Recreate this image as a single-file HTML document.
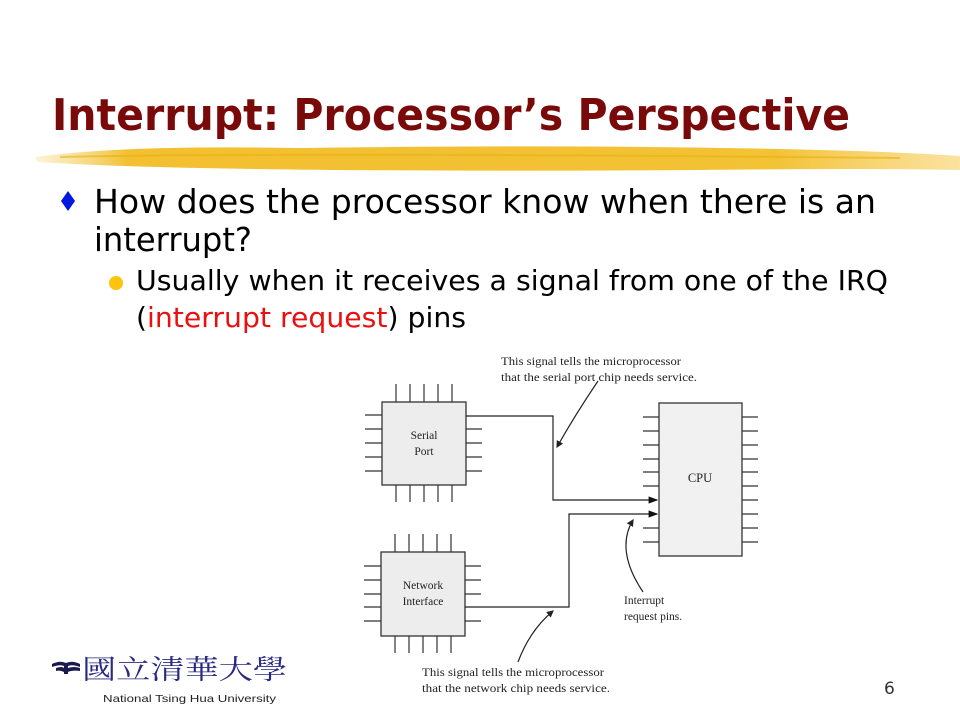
<!DOCTYPE html>
<html><head><meta charset="utf-8"><style>
html,body{margin:0;padding:0;background:#fff;}
svg{display:block}
</style></head><body>
<svg width="960" height="720" viewBox="0 0 960 720" xmlns="http://www.w3.org/2000/svg">
<defs>
<linearGradient id="br" x1="0" x2="1" y1="0" y2="0">
<stop offset="0" stop-color="#f6d77a" stop-opacity="0.3"/>
<stop offset="0.1" stop-color="#f2c030"/>
<stop offset="0.8" stop-color="#f3c235"/>
<stop offset="1" stop-color="#f7d060" stop-opacity="0.6"/>
</linearGradient>
<marker id="ah" markerWidth="8" markerHeight="6" refX="7" refY="3" orient="auto"><path d="M0,0 L8,3 L0,6 z" fill="#111"/></marker>
<marker id="ah2" markerWidth="6" markerHeight="6" refX="5" refY="3" orient="auto"><path d="M0,0 L6,3 L0,6 z" fill="#222"/></marker>
</defs>
<!-- title -->
<text x="52" y="130" font-family="'DejaVu Sans','Liberation Sans',sans-serif" font-weight="bold" font-size="44" fill="#7a0a0a" textLength="798" lengthAdjust="spacingAndGlyphs">Interrupt: Processor’s Perspective</text>
<!-- brush -->
<path d="M35,157 Q120,145 300,148 Q600,144 820,150 Q900,152 960,156 L960,170 Q880,168 700,170 Q400,172 200,168 Q100,166 38,162 z" fill="url(#br)"/>
<path d="M60,157 Q300,152 900,158" stroke="#e8b010" stroke-width="2" fill="none" opacity="0.6"/>
<!-- bullets -->
<path d="M68,191 L75,201 L68,211 L61,201 z" fill="#0018e0"/>
<text x="94" y="213" font-family="'DejaVu Sans','Liberation Sans',sans-serif" font-size="33" fill="#000" textLength="782" lengthAdjust="spacingAndGlyphs">How does the processor know when there is an</text>
<text x="94" y="251" font-family="'DejaVu Sans','Liberation Sans',sans-serif" font-size="33" fill="#000" textLength="158" lengthAdjust="spacingAndGlyphs">interrupt?</text>
<circle cx="116" cy="283" r="7" fill="#fcc40c"/>
<text x="136" y="290" font-family="'DejaVu Sans','Liberation Sans',sans-serif" font-size="28" fill="#000" textLength="752" lengthAdjust="spacingAndGlyphs">Usually when it receives a signal from one of the IRQ</text>
<text x="136" y="327" font-family="'DejaVu Sans','Liberation Sans',sans-serif" font-size="28" fill="#000" textLength="330" lengthAdjust="spacingAndGlyphs">(<tspan fill="#e81010">interrupt request</tspan>) pins</text>
<!-- diagram -->
<g stroke="#333" stroke-width="1.2" fill="none">
<path d="M396,384V402M410,384V402M424,384V402M438,384V402M452,384V402 M396,485V502M410,485V502M424,485V502M438,485V502M452,485V502 M365,415H382M365,429H382M365,443H382M365,457H382M365,471H382 M466,429H482M466,443H482M466,457H482M466,471H482"/>
<path d="M395,534V552M409,534V552M423,534V552M437,534V552M451,534V552 M395,636V653M409,636V653M423,636V653M437,636V653M451,636V653 M364,566H381M364,580H381M364,594H381M364,607H381M364,621H381 M465,566H481M465,580H481M465,594H481M465,621H481"/>
<path d="M643,417H659M643,431H659M643,445H659M643,459H659M643,472H659M643,486H659M643,528H659M643,542H659 M742,417H758M742,431H758M742,445H758M742,459H758M742,472H758M742,486H758M742,500H758M742,514H758M742,528H758M742,542H758"/>
</g>
<rect x="382" y="402" width="84" height="83" fill="#ededed" stroke="#333" stroke-width="1.3"/>
<rect x="381" y="552" width="84" height="84" fill="#ededed" stroke="#333" stroke-width="1.3"/>
<rect x="659" y="403" width="83" height="153" fill="#f1f1f1" stroke="#333" stroke-width="1.3"/>
<g fill="none" stroke="#222" stroke-width="1.2">
<path d="M466,416H553V500H657" marker-end="url(#ah)"/>
<path d="M465,607H569V514H657" marker-end="url(#ah)"/>
<path d="M598,381 Q575,415 557,447" marker-end="url(#ah2)"/>
<path d="M518,662 Q530,630 553,611" marker-end="url(#ah2)"/>
<path d="M643,592 Q615,550 633,520" marker-end="url(#ah2)"/>
</g>
<g font-family="'Liberation Serif',serif" font-size="11.5" fill="#222">
<text x="424" y="439" text-anchor="middle">Serial</text>
<text x="424" y="455" text-anchor="middle">Port</text>
<text x="423" y="589" text-anchor="middle">Network</text>
<text x="423" y="605" text-anchor="middle">Interface</text>
<text x="700" y="482" text-anchor="middle" font-size="12.5">CPU</text>
<text x="501" y="365" textLength="180" lengthAdjust="spacingAndGlyphs">This signal tells the microprocessor</text>
<text x="501" y="381" textLength="196" lengthAdjust="spacingAndGlyphs">that the serial port chip needs service.</text>
<text x="422" y="676" textLength="182" lengthAdjust="spacingAndGlyphs">This signal tells the microprocessor</text>
<text x="422" y="692" textLength="188" lengthAdjust="spacingAndGlyphs">that the network chip needs service.</text>
<text x="624" y="604">Interrupt</text>
<text x="624" y="620">request pins.</text>
</g>
<text x="884" y="694" font-family="'DejaVu Sans','Liberation Sans',sans-serif" font-size="17" fill="#333">6</text>
<g fill="#1a1a50">
<path d="M52,664 Q60,660 66,663 Q72,660 80,664 L80,667 Q72,664 68,666 L68,674 L64,674 L64,666 Q60,664 52,667 z"/>
<path d="M56,668 Q62,666 64,668 L64,672 Q60,670 56,671z M80,668 Q74,666 68,668 L68,672 Q72,670 80,671z"/>
</g>
<text x="82" y="679" font-family="'Noto Serif CJK SC','Noto Sans CJK TC',serif" font-size="27" fill="#2a2a80" textLength="205" lengthAdjust="spacingAndGlyphs">國立清華大學</text>
<text x="103" y="702" font-family="'Liberation Sans',sans-serif" font-size="10.5" fill="#222" textLength="173" lengthAdjust="spacingAndGlyphs">National Tsing Hua University</text>
</svg>
</body></html>
